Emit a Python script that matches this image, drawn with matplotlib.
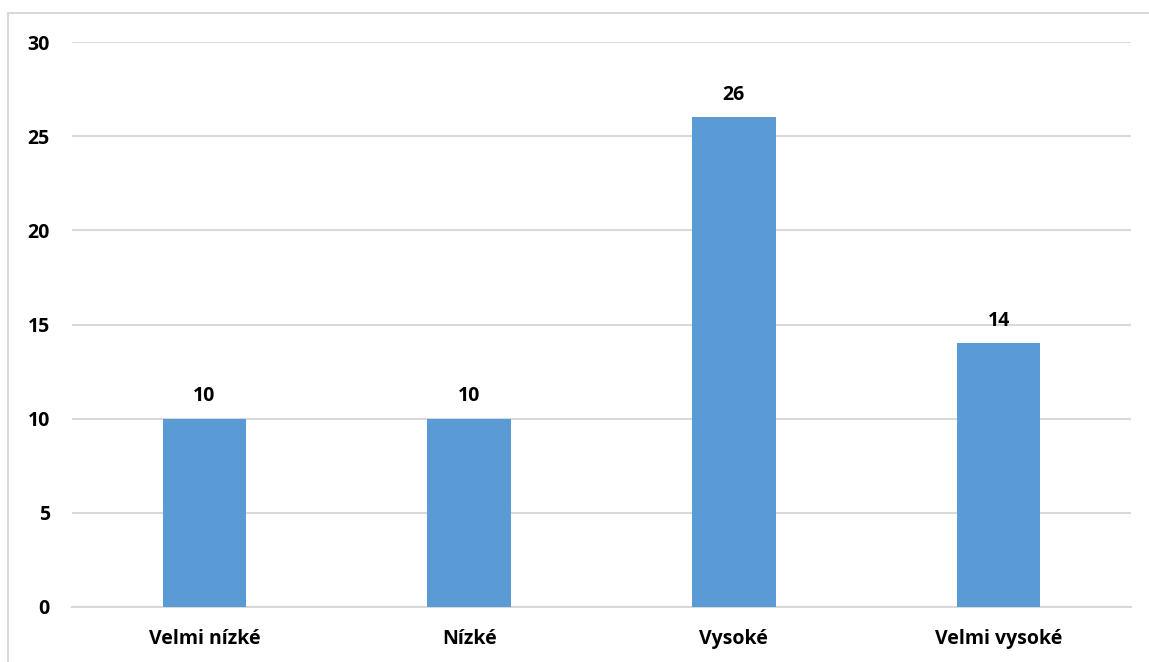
import matplotlib.pyplot as plt
from matplotlib.patches import Rectangle

categories = ["Velmi nízké", "Nízké", "Vysoké", "Velmi vysoké"]
values = [10, 10, 26, 14]
yticks = [0, 5, 10, 15, 20, 25, 30]

plt.rcParams['font.family'] = ['Open Sans', 'DejaVu Sans']

fig = plt.figure(figsize=(11.49, 6.62), dpi=100)
ax = fig.add_axes([72/1149, 1-607/662, (1131-72)/1149, (607-42)/662])

# light frame around the chart (left and top edges visible)
fig.patches.append(Rectangle((8/1149, -0.1), 1.2, 1-13/662+0.1,
                             transform=fig.transFigure, fill=False,
                             edgecolor="#d9d9d9", linewidth=1.5))

x = range(len(categories))
bars = ax.bar(x, values, width=0.315, color="#5b9bd5", zorder=3)
for b, v in zip(bars, values):
    ax.text(b.get_x()+b.get_width()/2, v+0.65, str(v), ha="center", va="bottom",
            fontsize=14, fontweight="bold", color="#000000")

ax.set_xlim(-0.5, len(categories)-0.5)
ax.set_ylim(0, 30)
ax.set_yticks(yticks)
ax.set_xticks(list(x))
ax.set_xticklabels(categories)
ax.grid(axis="y", color="#d9d9d9", linewidth=1.5, zorder=0)
ax.tick_params(length=0, labelsize=14)
ax.tick_params(axis="x", pad=16)
ax.tick_params(axis="y", pad=16)
for lab in ax.get_xticklabels()+ax.get_yticklabels():
    lab.set_fontweight("bold")
for s in ["top", "right", "left"]:
    ax.spines[s].set_visible(False)
ax.spines["bottom"].set_color("#d9d9d9")
ax.spines["bottom"].set_linewidth(1.5)

fig.savefig("out.png", dpi=100)
